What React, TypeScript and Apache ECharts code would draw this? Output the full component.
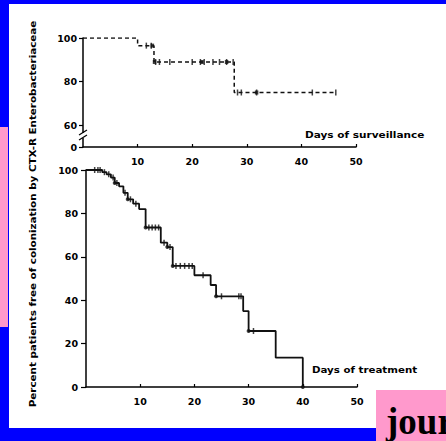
import React, { useEffect, useRef } from "react";
import * as echarts from "echarts";

// ---- data ----
const xTicks = [0, 10, 20, 30, 40, 50];
const topYTicks = [50, 60, 80, 100]; // 50 is shown as "0" (broken axis)
const bottomYTicks = [0, 20, 40, 60, 80, 100];

const survTimes = [0, 10, 13, 27.7, 46.3];
const survValues = [100, 96.5, 89, 75, 75];
const survCensorTimes = [11.6, 12.5, 13.3, 14, 15.9, 20, 21.5, 22.2, 23.8, 25, 26.3, 27.5, 28.3, 29, 31.8, 42, 46.3];
const survDotTimes = [12.7, 13.1, 21.8, 26.3, 31.8];

const treatTimes = [0, 3, 3.8, 4.6, 5.3, 6.1, 6.9, 7.7, 8.7, 9.8, 11, 13.8, 15, 16, 20, 23, 24, 29, 30, 35, 40];
const treatValues = [100, 99, 98, 96.5, 94, 92.5, 89.5, 86.5, 84.5, 82, 73.5, 66.5, 64.5, 55.8, 51.5, 47, 41.8, 35, 25.8, 13.5, 0];
const treatCensorTimes = [1.6, 2.2, 2.6, 3.4, 4.2, 5, 5.7, 7.2, 8.2, 9.2, 11.6, 12.2, 12.8, 13.4, 14.4, 15.5, 16.6, 17.4, 18.2, 19, 19.6, 21.6, 25, 28.2, 28.6, 30.9];
const treatDotTimes = [5.3, 7.7, 11, 15, 16, 24, 30, 40];

function survivalAt(times: number[], values: number[], t: number): number {
  let v = values[0];
  for (let i = 0; i < times.length; i++) {
    if (times[i] <= t + 1e-9) v = values[i];
  }
  return v;
}

const FONT = "DejaVu Sans";
const BLUE = "#0000ff";
const PINK = "#ff99cc";

export default function App() {
  const ref = useRef<HTMLDivElement>(null);
  useEffect(() => {
    if (!ref.current) return;
    const chart = echarts.init(ref.current, undefined, { renderer: "svg" });
    const labelStyle = {
      color: "#000",
      fontFamily: FONT,
      fontWeight: "bold" as const,
      fontSize: 9.5,
    };
    const axisLine = { show: true, onZero: false, lineStyle: { color: "#000", width: 1.5 } };
    const xAxisCommon = (gridIndex: number) => ({
      gridIndex,
      type: "value" as const,
      min: xTicks[0],
      max: xTicks[xTicks.length - 1],
      interval: 10,
      axisLine,
      axisTick: { show: true, inside: true, length: 3, lineStyle: { color: "#000", width: 1.2 } },
      axisLabel: { ...labelStyle, margin: 9, showMinLabel: false },
      splitLine: { show: false },
    });
    const titleStyle = { fontFamily: FONT, fontWeight: "bold", fontSize: 9, fill: "#000" };

    const option: any = {
      animation: false,
      backgroundColor: "#ffffff",
      grid: [
        { left: 83, top: 38, width: 273, height: 109 },
        { left: 86, top: 170, width: 271, height: 217 },
      ],
      xAxis: [xAxisCommon(0), xAxisCommon(1)],
      yAxis: [
        {
          gridIndex: 0,
          type: "value",
          min: 50,
          max: 100,
          axisLine,
          axisTick: { show: true, length: 4, customValues: topYTicks, lineStyle: { color: "#000", width: 1.2 } },
          axisLabel: {
            ...labelStyle,
            margin: 6,
            customValues: topYTicks,
            formatter: (v: number) => (v === 50 ? "0" : String(v)),
          },
          splitLine: { show: false },
        },
        {
          gridIndex: 1,
          type: "value",
          min: 0,
          max: 100,
          interval: 20,
          axisLine,
          axisTick: { show: true, length: 5, lineStyle: { color: "#000", width: 1.2 } },
          axisLabel: { ...labelStyle, margin: 8, customValues: bottomYTicks },
          splitLine: { show: false },
        },
      ],
      series: [
        {
          type: "line",
          xAxisIndex: 0,
          yAxisIndex: 0,
          step: "end",
          symbol: "none",
          lineStyle: { color: "#111", width: 1.5, type: [4, 3] },
          data: survTimes.map((t, i) => [t, survValues[i]]),
        },
        {
          type: "scatter",
          xAxisIndex: 0,
          yAxisIndex: 0,
          symbol: "rect",
          symbolSize: [1.5, 6],
          itemStyle: { color: "#111" },
          data: survCensorTimes.map((t) => [t, survivalAt(survTimes, survValues, t)]),
        },
        {
          type: "scatter",
          xAxisIndex: 0,
          yAxisIndex: 0,
          symbol: "rect",
          symbolSize: [3.5, 4],
          itemStyle: { color: "#111" },
          data: survDotTimes.map((t) => [t, survivalAt(survTimes, survValues, t)]),
        },
        {
          type: "line",
          xAxisIndex: 1,
          yAxisIndex: 1,
          step: "end",
          symbol: "none",
          lineStyle: { color: "#111", width: 1.8 },
          data: treatTimes.map((t, i) => [t, treatValues[i]]),
        },
        {
          type: "scatter",
          xAxisIndex: 1,
          yAxisIndex: 1,
          symbol: "rect",
          symbolSize: [1.5, 6],
          itemStyle: { color: "#111" },
          data: treatCensorTimes.map((t) => [t, survivalAt(treatTimes, treatValues, t)]),
        },
        {
          type: "scatter",
          xAxisIndex: 1,
          yAxisIndex: 1,
          symbol: "circle",
          symbolSize: 4,
          itemStyle: { color: "#111" },
          data: treatDotTimes.map((t) => [t, survivalAt(treatTimes, treatValues, t)]),
        },
      ],
      graphic: [
        // blue frame (top, left, bottom)
        { type: "rect", z: 90, shape: { x: 0, y: 0, width: 460, height: 4 }, style: { fill: BLUE } },
        { type: "rect", z: 90, shape: { x: 0, y: 0, width: 9, height: 460 }, style: { fill: BLUE } },
        { type: "rect", z: 90, shape: { x: 0, y: 428, width: 460, height: 20 }, style: { fill: BLUE } },
        { type: "rect", z: 91, shape: { x: 0, y: 127, width: 8, height: 200 }, style: { fill: PINK } },
        {
          type: "text",
          x: 33,
          y: 214,
          rotation: Math.PI / 2,
          scaleX: 1.15,
          style: {
            ...titleStyle,
            text: "Percent patients free of colonization by CTX-R Enterobacteriaceae",
            align: "center",
            verticalAlign: "middle",
          },
        },
        {
          type: "text",
          x: 305,
          y: 135,
          scaleX: 1.17,
          style: { ...titleStyle, text: "Days of surveillance", align: "left", verticalAlign: "middle" },
        },
        {
          type: "text",
          x: 312,
          y: 370,
          scaleX: 1.14,
          style: { ...titleStyle, text: "Days of treatment", align: "left", verticalAlign: "middle" },
        },
        { type: "rect", z: 50, shape: { x: 80, y: 133, width: 6, height: 5 }, style: { fill: "#ffffff" } },
        { type: "line", z: 51, shape: { x1: 79, y1: 135, x2: 87, y2: 130 }, style: { stroke: "#000", lineWidth: 1.2 } },
        { type: "line", z: 51, shape: { x1: 79, y1: 140, x2: 87, y2: 135 }, style: { stroke: "#000", lineWidth: 1.2 } },
        { type: "rect", z: 100, shape: { x: 376, y: 390, width: 80, height: 60 }, style: { fill: PINK } },
        {
          type: "text",
          z: 101,
          x: 386,
          y: 421,
          style: {
            text: "jour",
            fontFamily: "Liberation Serif",
            fontWeight: "bold",
            fontSize: 37,
            fill: "#000",
            align: "left",
            verticalAlign: "middle",
          },
        },
      ],
    };
    chart.setOption(option);
    return () => chart.dispose();
  }, []);
  return (
    <div
      ref={ref}
      style={{ position: "fixed", left: 0, top: 0, width: 446, height: 441, background: "#ffffff" }}
    />
  );
}
